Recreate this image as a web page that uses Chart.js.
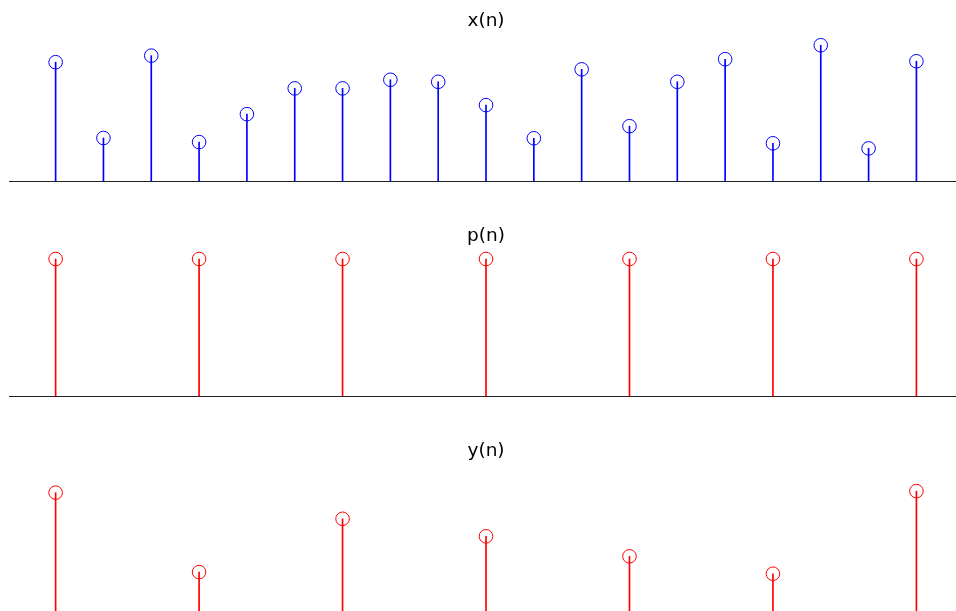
<!DOCTYPE html>
<html><head><meta charset="utf-8">
<script src="https://cdn.jsdelivr.net/npm/chart.js@4/dist/chart.umd.min.js"></script>
<style>
html,body{margin:0;padding:0;background:#fff;overflow:hidden;width:956px;height:611px;position:relative;}
canvas{position:absolute;left:0;}
</style></head><body>
<canvas id="c1" width="964" height="191" style="top:0px"></canvas>
<canvas id="c2" width="964" height="191" style="top:215px"></canvas>
<canvas id="c3" width="964" height="191" style="top:430px"></canvas>
<script>
// ---- data ----
const xN = [0,1,2,3,4,5,6,7,8,9,10,11,12,13,14,15,16,17,18];
const xValues = [0.867,0.314,0.915,0.284,0.488,0.676,0.676,0.739,0.724,0.554,0.312,0.815,0.400,0.724,0.889,0.275,0.991,0.238,0.874];
const pN = [0,3,6,9,12,15,18];
const pValues = [1,1,1,1,1,1,1];
const yN = [0,3,6,9,12,15,18];
const yValues = [0.864,0.284,0.673,0.545,0.399,0.272,0.875];
const titles = ['x(n)','p(n)','y(n)'];
const axisMin = -0.975, axisMax = 18.832;

const titlePlugin = {
  id: 'panelTitle',
  afterDraw(chart, args, opts) {
    const {ctx, chartArea, scales} = chart;
    ctx.save();
    ctx.font = '18.5px "DejaVu Sans"';
    ctx.fillStyle = '#000';
    ctx.textAlign = 'center';
    ctx.textBaseline = 'alphabetic';
    ctx.fillText(opts.text, scales.x.getPixelForValue(opts.center), chartArea.top - 18.4);
    ctx.restore();
  }
};

function makePanel(id, n, vals, color, title) {
  const pts = n.map((v, i) => ({x: v, y: vals[i]}));
  return new Chart(document.getElementById(id), {
    type: 'bar',
    data: { datasets: [
      { type: 'scatter', data: pts, borderColor: color, backgroundColor: 'rgba(0,0,0,0)',
        pointRadius: 6.8, pointHoverRadius: 6.8, pointBorderWidth: 1, borderWidth: 1,
        pointStyle: 'circle', clip: false, order: 0 },
      { type: 'bar', data: pts, backgroundColor: color, borderWidth: 0,
        barThickness: 1, clip: false, order: 1 }
    ]},
    options: {
      responsive: false, animation: false, events: [],
      layout: { padding: { left: 9, right: 0, top: 44, bottom: 10 } },
      plugins: {
        legend: { display: false }, tooltip: { enabled: false },
        panelTitle: { text: title, center: (xN[0] + xN[xN.length - 1]) / 2 }
      },
      scales: {
        x: { type: 'linear', min: axisMin, max: axisMax, offset: false,
             grid: { display: false, drawTicks: false }, ticks: { display: false },
             border: { display: true, color: '#222', width: 1 } },
        y: { display: false, min: 0, max: 1 }
      }
    },
    plugins: [titlePlugin]
  });
}

makePanel('c1', xN, xValues, '#0000ff', titles[0]);
makePanel('c2', pN, pValues, '#ff0000', titles[1]);
makePanel('c3', yN, yValues, '#ff0000', titles[2]);
</script>
</body></html>
